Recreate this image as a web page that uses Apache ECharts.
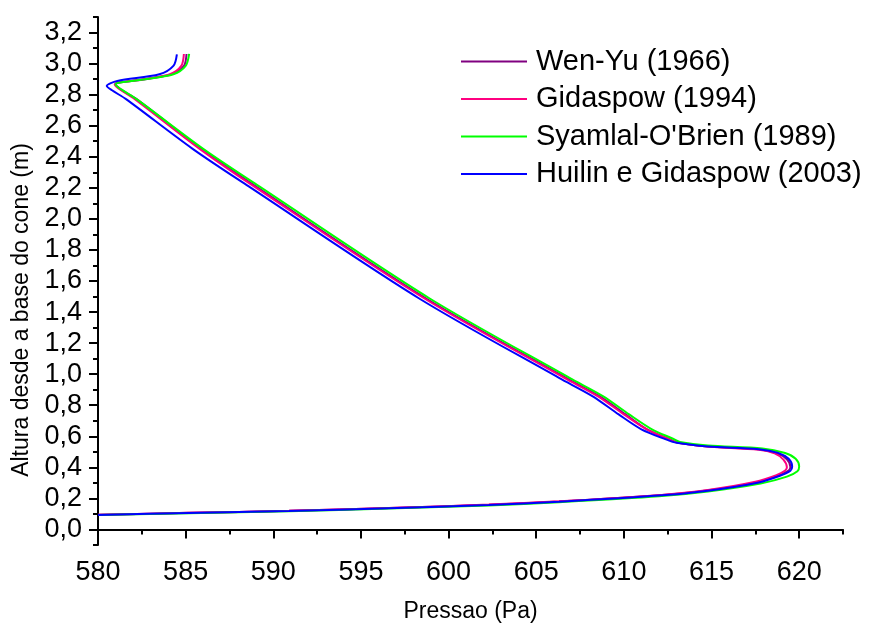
<!DOCTYPE html>
<html>
<head>
<meta charset="utf-8">
<script src="https://cdn.jsdelivr.net/npm/echarts@6/dist/echarts.min.js"></script>
<style>
  html, body { margin: 0; padding: 0; background: #fff; }
  #chart { width: 869px; height: 628px; }
</style>
</head>
<body>
<div id="chart"></div>
<script>
// Pressure profiles along the spouted bed height: [pressure (Pa), height (m)]
const wenYu = [
  [580.0,0.094],[585.2,0.107],[590.9,0.120],[596.6,0.138],[602.3,0.159],[606.3,0.180],
  [612.0,0.220],[614.8,0.252],[617.6,0.305],[618.8,0.348],[619.4,0.380],[619.5,0.402],
  [619.3,0.452],[618.7,0.492],[617.7,0.516],[614.8,0.535],[613.1,0.559],[612.6,0.581],
  [611.3,0.646],[610.1,0.741],[608.6,0.859],[606.7,0.976],[598.7,1.489],
  [589.0,2.209],[585.9,2.451],[582.2,2.771],[581.3,2.832],[581.0,2.866],[582.7,2.899],
  [584.2,2.931],[584.9,2.985],[585.05,3.062]
];
const gidaspow = [
  [580.0,0.094],[585.2,0.107],[590.9,0.120],[596.6,0.138],[602.3,0.160],[606.3,0.181],
  [612.0,0.221],[614.8,0.254],[617.5,0.307],[618.7,0.350],[619.2,0.380],[619.3,0.400],
  [619.1,0.450],[618.6,0.490],[617.7,0.514],[614.8,0.534],[613.1,0.558],[612.6,0.580],
  [611.3,0.645],[610.0,0.741],[608.5,0.859],[606.6,0.976],[598.6,1.489],
  [588.9,2.209],[585.8,2.451],[582.1,2.771],[581.3,2.830],[580.95,2.866],[582.6,2.899],
  [584.1,2.931],[584.75,2.985],[584.9,3.062]
];
const syamlalOBrien = [
  [580.0,0.093],[585.2,0.105],[590.9,0.118],[596.6,0.135],[602.3,0.155],[606.3,0.176],
  [612.0,0.214],[614.8,0.245],[617.8,0.296],[619.3,0.340],[619.9,0.375],[620.0,0.405],
  [619.8,0.455],[619.2,0.492],[617.9,0.522],[614.8,0.540],[613.2,0.563],[612.8,0.584],
  [611.6,0.645],[610.3,0.741],[608.8,0.859],[606.9,0.976],[598.9,1.489],
  [589.2,2.209],[586.0,2.451],[582.2,2.771],[581.35,2.832],[581.0,2.866],[582.7,2.899],
  [584.3,2.931],[585.0,2.985],[585.2,3.062]
];
const huilinGidaspow = [
  [580.0,0.093],[585.2,0.106],[590.9,0.119],[596.6,0.137],[602.3,0.158],[606.3,0.179],
  [612.0,0.218],[614.8,0.250],[617.7,0.303],[618.9,0.346],[619.5,0.378],[619.6,0.405],
  [619.4,0.455],[618.8,0.493],[617.7,0.517],[614.8,0.534],[613.0,0.558],[612.4,0.580],
  [611.0,0.645],[609.7,0.741],[608.2,0.859],[606.3,0.976],[598.3,1.489],
  [588.6,2.209],[585.4,2.451],[581.6,2.771],[580.8,2.828],[580.5,2.856],[581.1,2.888],
  [583.5,2.931],[584.3,2.985],[584.5,3.060]
];

const seriesNames = ['Wen-Yu (1966)', 'Gidaspow (1994)', 'Syamlal-O\'Brien (1989)', 'Huilin e Gidaspow (2003)'];
const seriesColors = ['#800080', '#ff0080', '#00ff00', '#0000ff'];
const seriesData = [wenYu, gidaspow, syamlalOBrien, huilinGidaspow];

// Axis ticks
const xMajorTicks = [580, 585, 590, 595, 600, 605, 610, 615, 620];
const xMinorTicks = [582.5, 587.5, 592.5, 597.5, 602.5, 607.5, 612.5, 617.5, 622.5];
const yMajorTicks = [0.0, 0.2, 0.4, 0.6, 0.8, 1.0, 1.2, 1.4, 1.6, 1.8, 2.0, 2.2, 2.4, 2.6, 2.8, 3.0, 3.2];
const yMinorTicks = [-0.1, 0.1, 0.3, 0.5, 0.7, 0.9, 1.1, 1.3, 1.5, 1.7, 1.9, 2.1, 2.3, 2.5, 2.7, 2.9, 3.1, 3.3];

const X_MIN = 580, X_MAX = 622.5, Y_MIN = -0.1, Y_MAX = 3.3;
const FONT = '"Liberation Sans", Arial, Helvetica, sans-serif';
const Y_TITLE = 'Altura desde a base do cone (m)';

const chart = echarts.init(document.getElementById('chart'), null, { renderer: 'canvas' });

const axisLineStyle = { color: '#000', width: 2 };

chart.setOption({
  animation: false,
  backgroundColor: '#fff',
  grid: { left: 98, right: 26, top: 17, bottom: 80, containLabel: false },
  legend: {
    orient: 'vertical',
    left: 461,
    top: 47,
    padding: 0,
    itemWidth: 66,
    itemHeight: 2,
    itemGap: 8.5,
    icon: 'rect',
    textStyle: { fontFamily: FONT, fontSize: 29, color: '#000', lineHeight: 28, padding: [0, 0, 0, 4] },
    data: seriesNames
  },
  graphic: [{
    type: 'text',
    x: 22,
    y: 310,
    rotation: Math.PI / 2,
    style: {
      text: Y_TITLE,
      font: '23px ' + FONT,
      fill: '#000',
      textAlign: 'center',
      textVerticalAlign: 'middle'
    }
  }],
  xAxis: [
    {
      type: 'value', min: X_MIN, max: X_MAX,
      name: 'Pressao (Pa)', nameLocation: 'middle', nameGap: 55,
      nameTextStyle: { fontFamily: FONT, fontSize: 23, color: '#000' },
      axisLine: { show: true, lineStyle: axisLineStyle },
      axisTick: { show: true, inside: false, length: 9, lineStyle: { color: '#000', width: 2 }, customValues: xMajorTicks },
      axisLabel: { fontFamily: FONT, fontSize: 27, color: '#000', margin: 14, customValues: xMajorTicks },
      splitLine: { show: false }
    },
    {
      type: 'value', min: X_MIN, max: X_MAX, position: 'bottom',
      axisLine: { show: false },
      axisTick: { show: true, inside: false, length: 5, lineStyle: { color: '#000', width: 2 }, customValues: xMinorTicks },
      axisLabel: { show: false },
      splitLine: { show: false }
    }
  ],
  yAxis: [
    {
      type: 'value', min: Y_MIN, max: Y_MAX,
      axisLine: { show: true, lineStyle: axisLineStyle },
      axisTick: { show: true, inside: false, length: 9, lineStyle: { color: '#000', width: 2 }, customValues: yMajorTicks },
      axisLabel: {
        fontFamily: FONT, fontSize: 27, color: '#000', margin: 16, customValues: yMajorTicks,
        formatter: v => v.toFixed(1).replace('.', ',')
      },
      splitLine: { show: false }
    },
    {
      type: 'value', min: Y_MIN, max: Y_MAX, position: 'left',
      axisLine: { show: false },
      axisTick: { show: true, inside: false, length: 5, lineStyle: { color: '#000', width: 2 }, customValues: yMinorTicks },
      axisLabel: { show: false },
      splitLine: { show: false }
    }
  ],
  series: seriesData.map((d, i) => ({
    name: seriesNames[i],
    type: 'line',
    xAxisIndex: 0,
    yAxisIndex: 0,
    data: d,
    smooth: 0.3,
    symbol: 'none',
    showSymbol: false,
    color: seriesColors[i],
    lineStyle: { color: seriesColors[i], width: 2 },
    itemStyle: { color: seriesColors[i] },
    clip: true
  }))
});
</script>
</body>
</html>
